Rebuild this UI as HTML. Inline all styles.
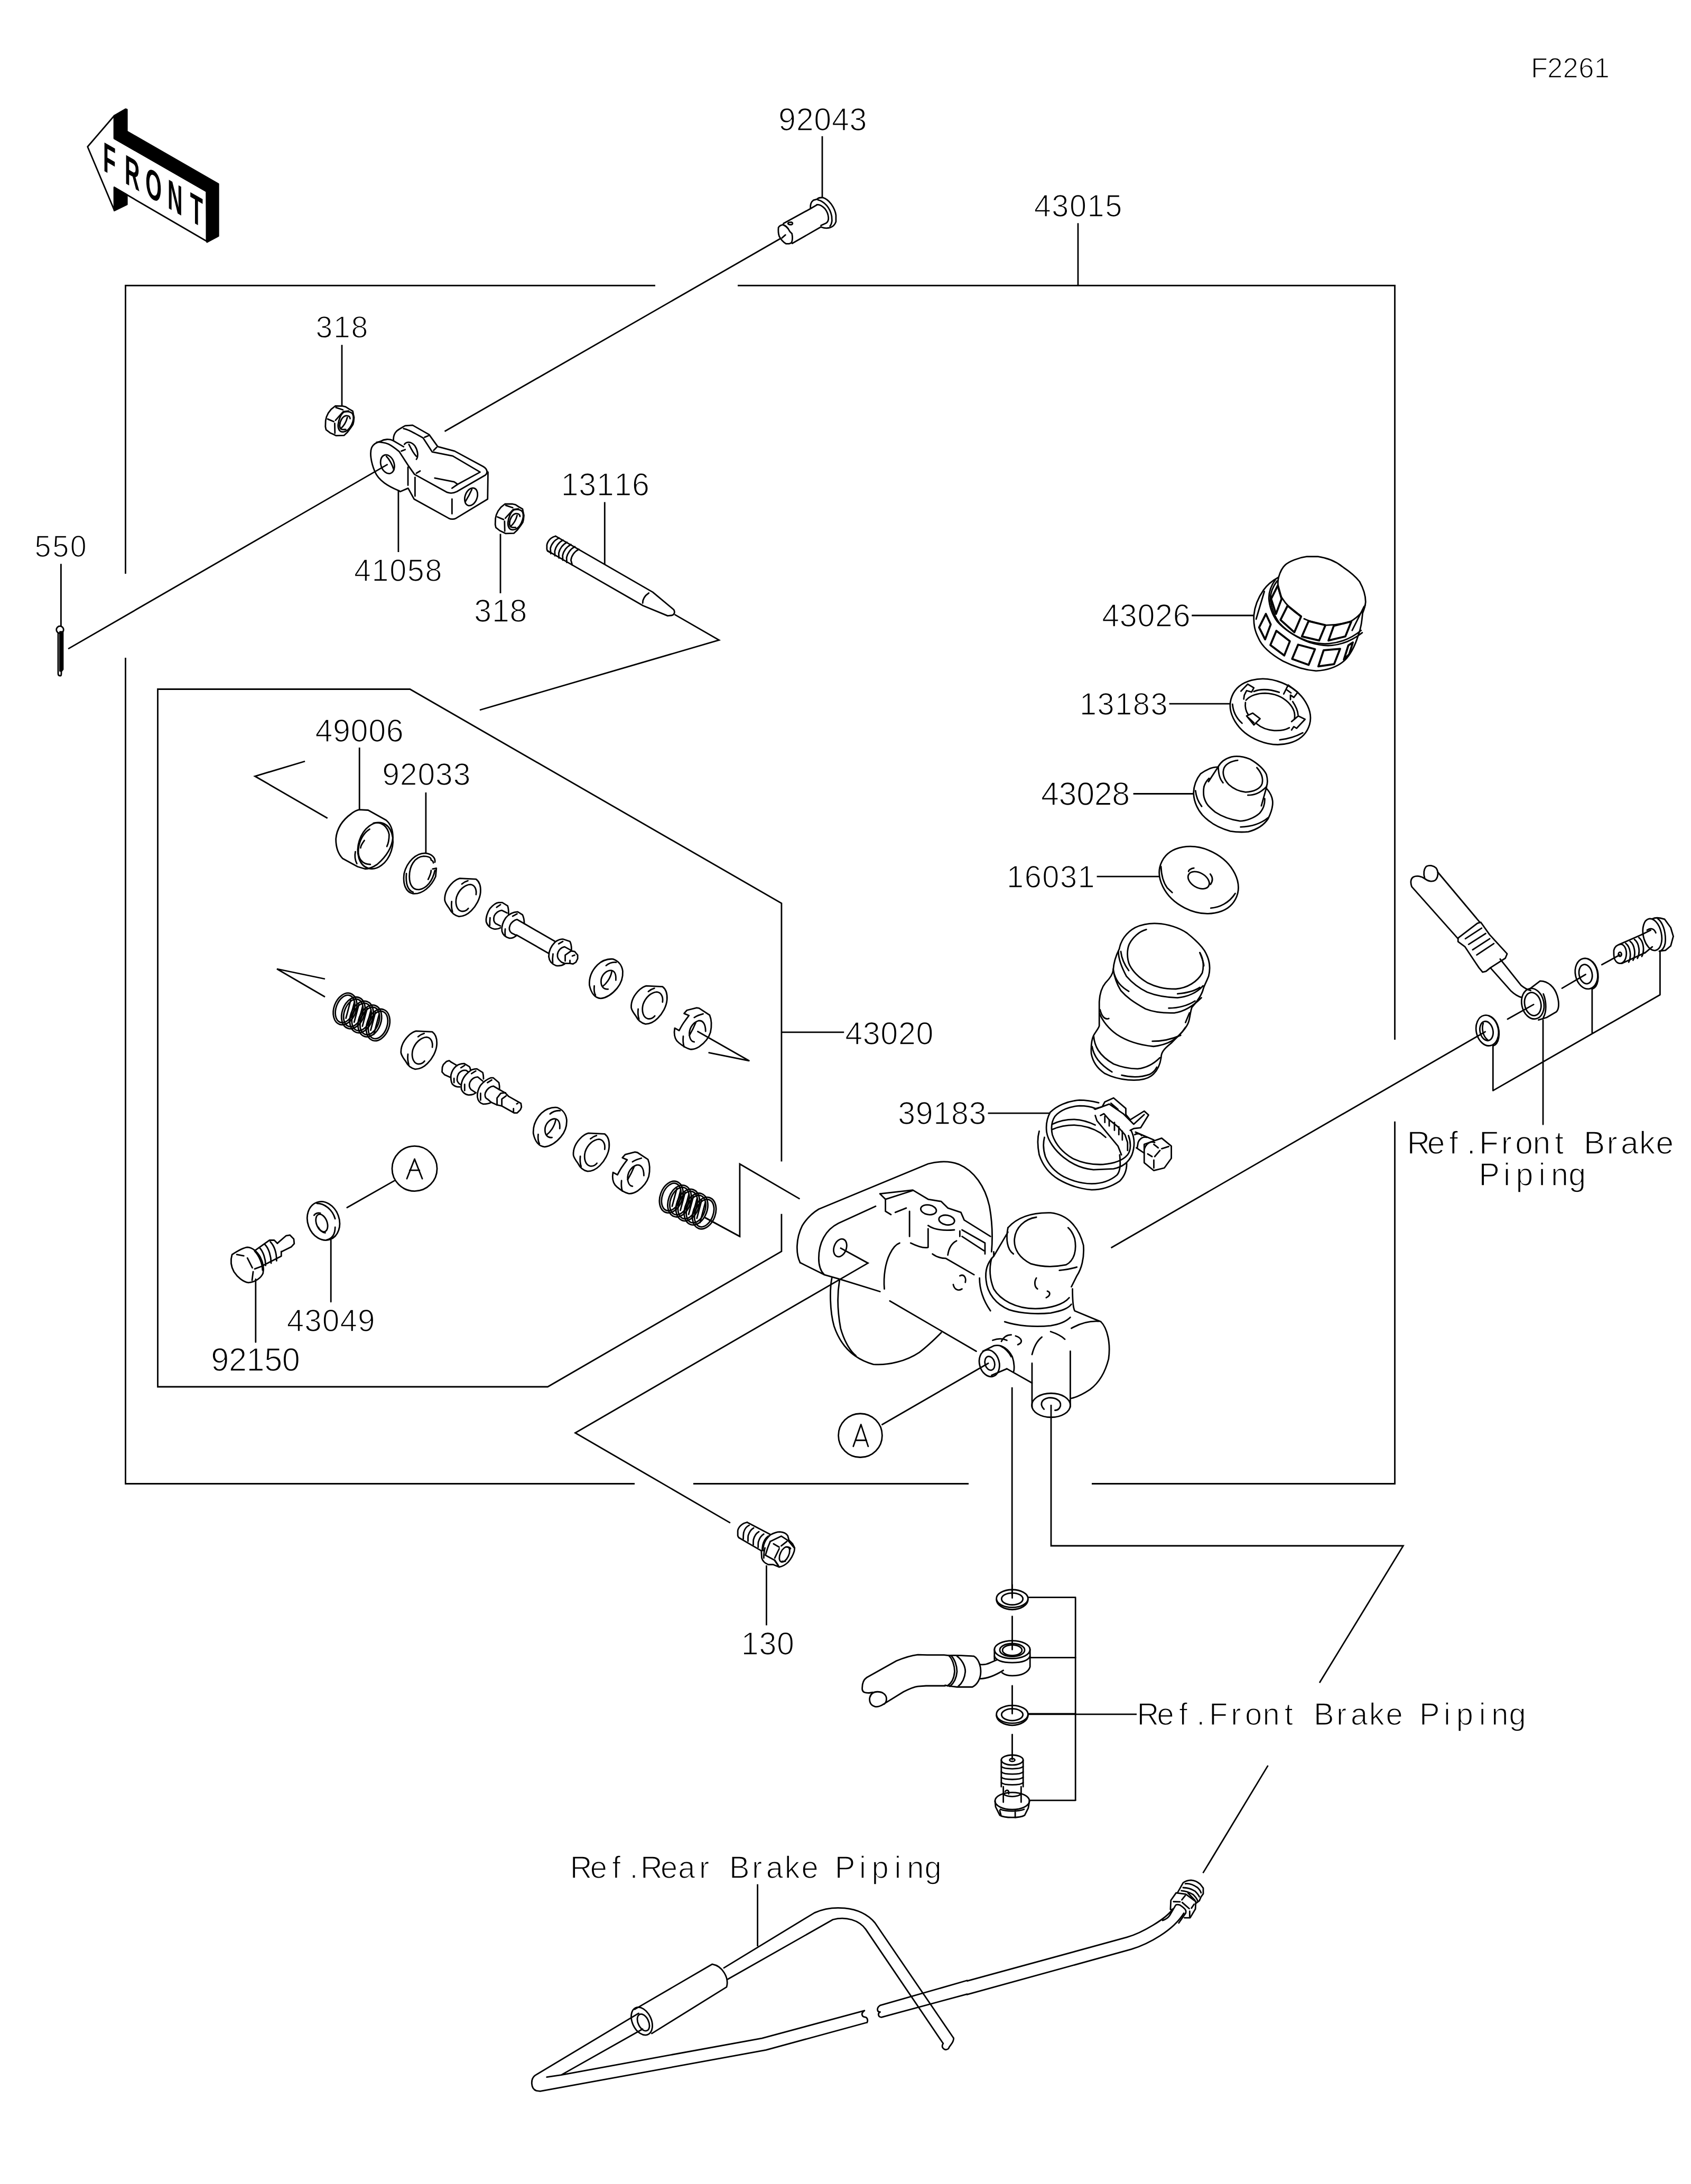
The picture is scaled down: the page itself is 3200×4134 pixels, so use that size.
<!DOCTYPE html>
<html><head><meta charset="utf-8"><style>
html,body{margin:0;padding:0;background:#fff;width:3200px;height:4134px;overflow:hidden}
svg{display:block}
svg path,svg ellipse,svg circle,svg polyline,svg polygon,svg line{fill:none;stroke:#000;stroke-width:2.8;vector-effect:non-scaling-stroke;stroke-linejoin:round;stroke-linecap:round}
svg .f{fill:#000}
svg .w4{stroke-width:3.8}
svg path.ln{stroke-linecap:butt;stroke-linejoin:miter}
svg .w{fill:#fff}
text{font-family:"Liberation Sans",sans-serif;fill:#000;stroke:#fff;stroke-width:1.6px}
text.fr{font-family:"Liberation Sans",sans-serif;font-weight:bold;stroke:none}
</style></head><body>
<svg xmlns="http://www.w3.org/2000/svg" width="3200" height="4134" viewBox="0 0 3200 4134"><path class="ln" d="M237.5,1086.0 L237.5,540.5 L1240.0,540.5"/>
<path class="ln" d="M1396.0,540.5 L2639.5,540.5 L2639.5,1968.0"/>
<path class="ln" d="M2639.5,2122.7 L2639.5,2808.5 L2066.0,2808.5"/>
<path class="ln" d="M1833.0,2808.5 L1312.0,2808.5"/>
<path class="ln" d="M1201.0,2808.5 L237.5,2808.5 L237.5,1245.0"/>
<path class="ln" d="M2040.0,422.4 L2040.0,540.5"/>
<path class="ln" d="M1556.0,257.8 L1556.0,373.7"/>
<path class="ln" d="M1476.5,451.8 L841.5,816.5"/>
<path class="ln" d="M1478.9,2198.5 L1478.9,1709.8 L775.8,1304.5 L298.5,1304.5 L298.5,2625.0 L1036.5,2625.0 L1478.9,2368.8 L1478.9,2297.8"/>
<path class="ln" d="M1478.9,1953.9 L1597.2,1953.9"/>
<text class="t" text-anchor="middle" y="246.8" font-size="60.3" transform="scale(0.980,1)"><tspan x="1519.9">9</tspan><tspan x="1554.2">2</tspan><tspan x="1588.5">0</tspan><tspan x="1622.8">4</tspan><tspan x="1657.0">3</tspan></text>
<text class="t" text-anchor="middle" y="410.0" font-size="58.9" transform="scale(0.980,1)"><tspan x="2013.0">4</tspan><tspan x="2047.3">3</tspan><tspan x="2081.6">0</tspan><tspan x="2115.9">1</tspan><tspan x="2150.2">5</tspan></text>
<text class="t" text-anchor="middle" y="147.3" font-size="53.6" transform="scale(0.980,1)"><tspan x="2972.5">F</tspan><tspan x="3002.7">2</tspan><tspan x="3032.9">2</tspan><tspan x="3063.1">6</tspan><tspan x="3093.3">1</tspan></text>
<text class="t" text-anchor="middle" y="639.5" font-size="58.3" transform="scale(0.980,1)"><tspan x="625.9">3</tspan><tspan x="660.2">1</tspan><tspan x="694.4">8</tspan></text>
<text class="t" text-anchor="middle" y="1053.9" font-size="56.9" transform="scale(0.980,1)"><tspan x="82.8">5</tspan><tspan x="117.0">5</tspan><tspan x="151.3">0</tspan></text>
<text class="t" text-anchor="middle" y="1099.7" font-size="58.6" transform="scale(0.980,1)"><tspan x="699.9">4</tspan><tspan x="734.2">1</tspan><tspan x="768.5">0</tspan><tspan x="802.8">5</tspan><tspan x="837.1">8</tspan></text>
<text class="t" text-anchor="middle" y="1176.9" font-size="60.3" transform="scale(0.980,1)"><tspan x="932.4">3</tspan><tspan x="966.7">1</tspan><tspan x="1001.0">8</tspan></text>
<text class="t" text-anchor="middle" y="938.0" font-size="60.3" transform="scale(0.980,1)"><tspan x="1100.2">1</tspan><tspan x="1134.4">3</tspan><tspan x="1168.7">1</tspan><tspan x="1203.0">1</tspan><tspan x="1237.3">6</tspan></text>
<text class="t" text-anchor="middle" y="1186.4" font-size="60.3" transform="scale(0.980,1)"><tspan x="2144.5">4</tspan><tspan x="2178.8">3</tspan><tspan x="2213.1">0</tspan><tspan x="2247.4">2</tspan><tspan x="2281.7">6</tspan></text>
<text class="t" text-anchor="middle" y="1353.4" font-size="59.0" transform="scale(0.980,1)"><tspan x="2101.1">1</tspan><tspan x="2135.4">3</tspan><tspan x="2169.7">1</tspan><tspan x="2204.0">8</tspan><tspan x="2238.3">3</tspan></text>
<text class="t" text-anchor="middle" y="1523.7" font-size="62.3" transform="scale(0.980,1)"><tspan x="2027.5">4</tspan><tspan x="2061.8">3</tspan><tspan x="2096.1">0</tspan><tspan x="2130.4">2</tspan><tspan x="2164.6">8</tspan></text>
<text class="t" text-anchor="middle" y="1404.0" font-size="60.3" transform="scale(0.980,1)"><tspan x="625.4">4</tspan><tspan x="659.6">9</tspan><tspan x="693.9">0</tspan><tspan x="728.2">0</tspan><tspan x="762.5">6</tspan></text>
<text class="t" text-anchor="middle" y="1485.8" font-size="60.0" transform="scale(0.980,1)"><tspan x="754.7">9</tspan><tspan x="789.0">2</tspan><tspan x="823.3">0</tspan><tspan x="857.6">3</tspan><tspan x="891.9">3</tspan></text>
<text class="t" text-anchor="middle" y="1680.3" font-size="59.0" transform="scale(0.980,1)"><tspan x="1960.4">1</tspan><tspan x="1994.7">6</tspan><tspan x="2029.0">0</tspan><tspan x="2063.3">3</tspan><tspan x="2097.6">1</tspan></text>
<text class="t" text-anchor="middle" y="1976.9" font-size="60.3" transform="scale(0.980,1)"><tspan x="1648.6">4</tspan><tspan x="1682.9">3</tspan><tspan x="1717.1">0</tspan><tspan x="1751.4">2</tspan><tspan x="1785.7">0</tspan></text>
<text class="t" text-anchor="middle" y="2128.3" font-size="60.3" transform="scale(0.980,1)"><tspan x="1750.7">3</tspan><tspan x="1784.9">9</tspan><tspan x="1819.2">1</tspan><tspan x="1853.5">8</tspan><tspan x="1887.8">3</tspan></text>
<text class="t" text-anchor="middle" y="2183.7" font-size="61.7" transform="scale(0.980,1)"><tspan x="2739.0">R</tspan><tspan x="2773.0">e</tspan><tspan x="2806.9">f</tspan><tspan x="2840.9">.</tspan><tspan x="2874.9">F</tspan><tspan x="2908.9">r</tspan><tspan x="2942.9">o</tspan><tspan x="2976.8">n</tspan><tspan x="3010.8">t</tspan><tspan x="3078.8">B</tspan><tspan x="3112.8">r</tspan><tspan x="3146.7">a</tspan><tspan x="3180.7">k</tspan><tspan x="3214.7">e</tspan></text>
<text class="t" text-anchor="middle" y="2244.2" font-size="60.3" transform="scale(0.980,1)"><tspan x="2875.8">P</tspan><tspan x="2909.7">i</tspan><tspan x="2943.7">p</tspan><tspan x="2977.7">i</tspan><tspan x="3011.7">n</tspan><tspan x="3045.7">g</tspan></text>
<text class="t" text-anchor="middle" y="2520.0" font-size="59.6" transform="scale(0.980,1)"><tspan x="570.4">4</tspan><tspan x="604.6">3</tspan><tspan x="638.9">0</tspan><tspan x="673.2">4</tspan><tspan x="707.5">9</tspan></text>
<text class="t" text-anchor="middle" y="2594.8" font-size="62.4" transform="scale(0.980,1)"><tspan x="424.8">9</tspan><tspan x="459.1">2</tspan><tspan x="493.4">1</tspan><tspan x="527.7">5</tspan><tspan x="561.9">0</tspan></text>
<text class="t" text-anchor="middle" y="3131.7" font-size="60.3" transform="scale(0.980,1)"><tspan x="1448.2">1</tspan><tspan x="1482.5">3</tspan><tspan x="1516.8">0</tspan></text>
<text class="t" text-anchor="middle" y="3264.7" font-size="59.0" transform="scale(0.980,1)"><tspan x="2216.7">R</tspan><tspan x="2250.7">e</tspan><tspan x="2284.7">f</tspan><tspan x="2318.7">.</tspan><tspan x="2352.7">F</tspan><tspan x="2386.6">r</tspan><tspan x="2420.6">o</tspan><tspan x="2454.6">n</tspan><tspan x="2488.6">t</tspan><tspan x="2556.5">B</tspan><tspan x="2590.5">r</tspan><tspan x="2624.5">a</tspan><tspan x="2658.5">k</tspan><tspan x="2692.4">e</tspan><tspan x="2760.4">P</tspan><tspan x="2794.4">i</tspan><tspan x="2828.4">p</tspan><tspan x="2862.3">i</tspan><tspan x="2896.3">n</tspan><tspan x="2930.3">g</tspan></text>
<text class="t" text-anchor="middle" y="3554.7" font-size="59.0" transform="scale(0.980,1)"><tspan x="1122.0">R</tspan><tspan x="1156.0">e</tspan><tspan x="1190.0">f</tspan><tspan x="1224.0">.</tspan><tspan x="1258.0">R</tspan><tspan x="1291.9">e</tspan><tspan x="1325.9">a</tspan><tspan x="1359.9">r</tspan><tspan x="1427.9">B</tspan><tspan x="1461.8">r</tspan><tspan x="1495.8">a</tspan><tspan x="1529.8">k</tspan><tspan x="1563.8">e</tspan><tspan x="1631.7">P</tspan><tspan x="1665.7">i</tspan><tspan x="1699.7">p</tspan><tspan x="1733.7">i</tspan><tspan x="1767.7">n</tspan><tspan x="1801.6">g</tspan></text>
<g transform="translate(150.00,190.00) scale(0.16558)"><polygon class="f" points="400,175 530,100 545,105 545,355 1590,955 1590,1550 1460,1620 1455,1040 400,435"/><polygon class="f" points="400,995 545,1080 545,1190 400,1260"/><path d="M400,435 L400,175 L95,530 L400,1255 L400,995 L1455,1610 L1455,1040 Z"/></g>
<text class="fr" y="210" font-size="79" transform="skewY(30) scale(0.500,1)"><tspan x="414.2" text-anchor="middle">F</tspan><tspan x="500.4" text-anchor="middle">R</tspan><tspan x="581.4" text-anchor="middle">O</tspan><tspan x="662.6" text-anchor="middle">N</tspan><tspan x="743.8" text-anchor="middle">T</tspan></text>
<g transform="translate(1440.00,360.00) scale(0.09462)"><path d="M990,365 C985,300 995,240 1050,200 L1120,180 C1150,150 1200,145 1240,150 C1300,165 1350,210 1400,270 C1450,340 1490,420 1500,500 L1500,630 C1480,690 1440,730 1380,750 C1320,765 1260,760 1210,740"/><path d="M1140,195 C1200,205 1260,250 1310,300 C1370,370 1400,440 1415,520 L1420,610 C1415,660 1400,700 1380,720"/><path d="M1120,290 C1170,280 1230,320 1280,370 C1320,420 1345,480 1350,550 C1352,600 1340,640 1300,660 L1200,705"/><path d="M450,665 L990,370 L1125,290"/><path d="M625,1065 L1200,735"/><path d="M350,745 C370,715 400,695 440,690 C490,700 540,750 580,830 L620,870 C630,920 635,990 615,1040 C600,1065 560,1075 500,1070 C450,1040 400,990 365,920 C350,880 345,800 350,745 Z"/><path d="M440,690 C480,710 520,740 545,770"/><path d="M540,665 C545,645 575,638 615,642 C640,650 638,680 615,688 C580,692 545,685 540,665 Z"/><path d="M420,955 L490,895"/></g>
<g transform="translate(610.00,760.00) scale(0.04140)"><path d="M590,205 L930,210 L1070,245 L1200,330 L1390,440 L1420,600 L1450,730 L1430,920 L1400,1050 L1300,1200 L1150,1400 L990,1550 L620,1560 L500,1500 L350,1430 L170,1290 L140,1150 L150,870 L190,700 L270,530 L400,360 Z"/><path d="M240,800 L520,920"/><path d="M620,275 L940,380"/><path d="M600,860 L960,460 L1200,430"/><path d="M565,1000 L575,1450"/><path d="M990,480 C1150,440 1300,470 1380,560 C1450,700 1420,900 1330,1080 C1240,1260 1100,1380 950,1390 C780,1390 710,1250 720,1060 C740,850 850,560 990,480 Z"/><path d="M1270,780 C1260,680 1200,640 1080,650 C930,680 800,880 790,1100 C800,1250 880,1300 1000,1280 L1070,1280"/><path d="M1140,730 C1100,900 1000,1100 830,1250"/></g>
<g transform="translate(931.40,945.30) scale(0.04140)"><path d="M590,205 L930,210 L1070,245 L1200,330 L1390,440 L1420,600 L1450,730 L1430,920 L1400,1050 L1300,1200 L1150,1400 L990,1550 L620,1560 L500,1500 L350,1430 L170,1290 L140,1150 L150,870 L190,700 L270,530 L400,360 Z"/><path d="M240,800 L520,920"/><path d="M620,275 L940,380"/><path d="M600,860 L960,460 L1200,430"/><path d="M565,1000 L575,1450"/><path d="M990,480 C1150,440 1300,470 1380,560 C1450,700 1420,900 1330,1080 C1240,1260 1100,1380 950,1390 C780,1390 710,1250 720,1060 C740,850 850,560 990,480 Z"/><path d="M1270,780 C1260,680 1200,640 1080,650 C930,680 800,880 790,1100 C800,1250 880,1300 1000,1280 L1070,1280"/><path d="M1140,730 C1100,900 1000,1100 830,1250"/></g>
<path class="ln" d="M647.0,652.8 L647.0,768.0"/>
<path class="ln" d="M947.0,1010.5 L947.0,1123.0"/>
<g transform="translate(690.00,790.00) scale(0.14193)"><path d="M455,978 C320,920 190,850 135,720 C85,600 65,470 95,400 C120,350 170,330 215,318 C260,290 330,285 380,310 L520,392"/><path d="M160,332 C190,330 215,330 240,335 C290,340 330,350 460,455 L580,640 L665,760 L1100,1000 C1140,1015 1190,1010 1230,990 L1610,770 C1645,740 1640,690 1580,655 L1200,450 L975,390 L860,230 L640,105 L540,112 C500,135 470,150 430,180 C395,215 380,260 385,310"/><path d="M520,150 C560,155 600,175 780,275 L900,460 L1175,515 L1540,730 L1240,893 L1195,860 L935,810"/><path d="M1165,945 L1240,893"/><path d="M455,978 L475,990 L580,945 L660,1090 L1120,1345 C1150,1360 1190,1360 1220,1345 L1640,1090 L1645,730"/><path d="M578,665 L578,905"/><path d="M672,800 L672,1050"/><path d="M1165,1090 L1165,1285"/><path d="M800,265 L850,245"/><path d="M920,440 L960,400"/><path d="M490,450 L540,430"/><path d="M690,745 L740,715"/><ellipse cx="305" cy="625" rx="88" ry="128" transform="rotate(-18 305 625)"/><path d="M290,520 C330,560 370,640 390,700"/><path d="M530,360 C560,320 620,320 670,380 C710,440 720,520 690,560"/><path d="M590,360 C620,420 650,480 690,520"/><ellipse cx="1420" cy="1060" rx="80" ry="122" transform="rotate(20 1420 1060)"/><path d="M1430,960 C1400,1030 1370,1080 1345,1120"/></g>
<path class="ln" d="M753.9,928.8 L753.9,1045.0"/>
<path class="ln" d="M733.7,878.9 L129.1,1228.1"/>
<circle cx="113.5" cy="1192" r="6.8"/>
<path d="M110,1198 L110,1275 Q110,1279 113,1279 L115,1279 Q116,1279 116,1275 L116,1200"/>
<polygon class="f" points="113.5,1196 119,1196 119,1267 116.5,1270 113.5,1270"/>
<path class="ln" d="M115.4,1067.3 L115.4,1185.5"/>
<g transform="translate(1020.00,1000.00) scale(0.16558)"><path d="M190,90 L1300,730 L1540,930 C1555,955 1550,985 1520,995 L1470,1000 L1190,885 L390,425 L95,255"/><path d="M190,90 C140,100 100,140 90,190 L90,240 L100,262 L125,275"/><path d="M230,112 C180,130 140,180 130,230 L135,290"/><path d="M275,135 C225,160 190,210 180,260 L182,315"/><path d="M320,160 C270,185 235,235 225,285 L228,340"/><path d="M365,185 C315,210 280,260 270,310 L272,365"/><path d="M410,210 C360,235 325,285 315,335 L317,390"/><path d="M455,240 C405,265 370,315 365,365 L380,420"/><path d="M1255,740 C1210,770 1185,810 1185,855"/></g>
<path class="ln" d="M1144.3,950.4 L1144.3,1068.7"/>
<path class="ln" d="M1276.6,1163.1 L1360.6,1211.6 L907.9,1344.0"/>
<g transform="translate(2360.00,1040.00) scale(0.14193)" style="stroke-width:3px"><path d="M420,370 C440,300 470,240 510,205 C560,160 680,110 800,95 L940,95 C1050,110 1170,150 1270,230 C1360,290 1440,350 1500,430 C1550,520 1580,620 1580,700 C1575,760 1560,800 1540,850 C1530,950 1520,1050 1480,1150 C1440,1280 1380,1400 1300,1480 C1200,1570 1080,1610 920,1620 C780,1610 620,1560 480,1490 C320,1400 200,1300 150,1180 C100,1080 85,1000 90,880 C100,760 150,640 220,540 C270,470 330,420 420,370 Z"/><path d="M420,370 C400,450 410,540 460,640 C520,740 600,820 720,890 M760,925 C800,945 850,960 900,975 M1060,1010 C1150,1010 1250,1000 1380,960 C1480,900 1550,830 1575,740"/><path d="M380,400 C320,480 290,560 290,650 C295,760 340,880 400,960 C500,1070 640,1160 800,1220 C900,1250 1000,1265 1100,1255 C1250,1240 1400,1180 1520,1080"/><path d="M400,420 C340,500 310,580 310,660 C320,780 370,900 430,980 C530,1090 670,1180 830,1240 C930,1270 1030,1290 1130,1280 C1280,1265 1420,1200 1535,1110"/><path class="w4" d="M320,660 L410,480 L460,660 L385,860 Z"/><path class="w4" d="M445,940 L540,750 L720,895 L630,1105 Z"/><path class="w4" d="M730,1160 L820,955 L1045,1010 L960,1215 Z"/><path class="w4" d="M1085,1215 L1155,1020 L1390,960 L1310,1160 Z"/><path class="w4" d="M160,1040 L250,860 L315,1000 L240,1200 Z"/><path class="w4" d="M310,1275 L390,1085 L570,1225 L495,1415 Z"/><path class="w4" d="M600,1460 L680,1270 L905,1330 L820,1540 Z"/><path class="w4" d="M950,1560 L1020,1345 L1240,1325 L1160,1530 Z"/><path class="w4" d="M1290,1470 L1350,1280 L1410,1240 L1360,1400 Z"/><path d="M120,930 L230,560"/><path d="M1400,1080 L1560,760"/></g>
<path class="ln" d="M2255.2,1165.0 L2373.5,1165.0"/>
<g transform="translate(2310.00,1270.00) scale(0.10645)"><ellipse cx="882" cy="725" rx="735" ry="555" transform="rotate(22 882 725)"/><path d="M210,590 C220,720 280,840 380,930"/><path d="M1050,1225 C1200,1210 1350,1160 1460,1100"/><path d="M450,520 C520,440 650,395 790,395 C950,400 1100,460 1200,560 C1300,660 1330,770 1310,860 M1220,1010 C1150,1050 1050,1065 950,1060 C820,1050 720,1010 640,940 M490,780 C450,720 430,640 440,560"/><path d="M590,365 C700,320 860,320 1040,380"/><path d="M1280,545 C1330,620 1370,700 1375,780"/><path d="M360,360 L480,235 L590,300 L550,375 L460,350 L420,430 L410,500"/><path d="M1120,410 L1200,250 L1370,380 L1300,470 L1240,430 L1240,510"/><path d="M1180,340 L1250,390"/><path d="M460,800 L570,750 L700,850 L590,960 Z"/><path d="M490,830 L590,920"/><path d="M1260,900 L1380,800 L1500,860 L1350,1020 L1300,990 L1260,1050"/></g>
<path class="ln" d="M2212.6,1332.2 L2329.2,1332.2"/>
<g transform="translate(2240.00,1420.00) scale(0.10645)"><path d="M610,300 C650,220 730,150 850,118 C950,100 1080,120 1180,160 C1300,230 1420,330 1470,430 C1495,520 1490,600 1470,650"/><path d="M960,180 C850,195 760,240 720,310 C680,400 710,520 800,610 C900,700 1000,735 1100,745 C1250,740 1370,680 1395,590 C1415,500 1380,400 1300,310"/><path d="M615,310 C620,400 630,500 700,580"/><path d="M1140,800 C1250,800 1350,770 1470,650"/><path d="M610,300 C480,300 380,360 300,420 C220,520 180,620 175,760 C180,900 230,1030 330,1150 C450,1280 600,1380 830,1440 C950,1460 1050,1460 1150,1450 C1300,1410 1420,1340 1500,1220 C1560,1100 1590,1000 1580,900 C1570,820 1540,760 1480,690"/><path d="M360,650 C350,700 350,790 360,830 C390,950 440,1000 560,1100 C680,1180 800,1230 1000,1260 C1100,1260 1250,1210 1350,1120 C1420,1040 1445,950 1440,860"/><path d="M610,300 L440,560 M450,500 C410,540 380,580 360,650"/><path d="M1475,650 L1380,990"/><path d="M210,720 C220,830 260,920 320,1000"/><path d="M1010,1365 C1200,1360 1380,1300 1500,1200"/></g>
<path class="ln" d="M2144.6,1502.5 L2258.6,1502.5"/>
<g transform="translate(2180.00,1590.00) scale(0.10645)"><ellipse cx="832" cy="712" rx="735" ry="555" transform="rotate(27 832 712)"/><path d="M160,470 C165,600 190,740 270,850 L360,935"/><path d="M1045,1210 C1200,1200 1370,1120 1480,950"/><ellipse cx="830" cy="715" rx="205" ry="130" transform="rotate(30 830 715)"/><path d="M650,560 C650,530 700,505 745,500"/><path d="M1035,605 C1080,660 1090,720 1040,790"/></g>
<path class="ln" d="M2075.6,1659.2 L2193.5,1659.2"/>
<g transform="translate(2050.00,1730.00) scale(0.15106)"><path d="M450,440 C470,330 540,230 650,170 C750,125 850,115 930,120 C1050,125 1200,170 1300,240 C1400,320 1500,410 1540,500 C1590,600 1590,700 1570,780 C1540,860 1510,900 1500,950 C1480,1020 1440,1080 1360,1170 C1340,1230 1335,1300 1320,1350 C1300,1420 1240,1480 1100,1620 C1000,1700 975,1740 975,1800 C960,1900 920,1980 850,2030 C780,2080 680,2090 560,2080 C450,2070 350,2040 270,2000 C180,1940 120,1860 100,1750 C95,1650 100,1580 130,1520 C160,1470 200,1420 200,1400 L200,1100 C205,1000 230,920 280,860 C330,810 370,760 375,700 C380,620 410,520 450,440 Z"/><path d="M790,195 C700,220 620,290 575,380 C545,450 545,560 580,640 C620,720 700,800 800,860 C900,910 1000,940 1160,940 C1300,930 1430,850 1490,740 C1510,670 1510,570 1460,485"/><path d="M440,470 C440,560 470,650 540,780 C600,850 680,920 800,980 C900,1020 1000,1045 1180,1050 C1300,1040 1420,990 1500,900"/><path d="M470,470 C480,560 510,630 570,710"/><path d="M375,690 C390,800 420,880 470,960 C540,1040 620,1100 780,1190 C880,1230 980,1245 1140,1240 C1270,1225 1380,1150 1480,1050"/><path d="M390,760 C420,850 470,910 570,970"/><path d="M1180,1000 C1300,990 1400,960 1460,920"/><path d="M1070,1180 C1200,1180 1320,1140 1400,1090"/><path d="M205,1250 C240,1340 320,1440 420,1510 C540,1590 680,1640 880,1660 C1050,1640 1180,1580 1280,1420"/><path d="M210,1200 C230,1280 270,1330 320,1310"/><path d="M1280,1360 L1330,1240"/><path d="M865,1595 C1000,1595 1130,1560 1220,1520"/><path d="M130,1530 C140,1650 190,1770 380,1880 C480,1920 580,1940 680,1940 C780,1930 880,1880 960,1800"/><path d="M110,1660 C130,1780 200,1880 360,1980"/><path d="M480,2020 C600,2050 720,2050 830,2010 C870,1990 900,1960 920,1920"/><path d="M1460,485 C1490,560 1510,620 1510,650"/></g>
<g transform="translate(1950.00,2070.00) scale(0.16558)"><path d="M225,215 C300,140 420,85 560,75 C650,75 720,90 780,105 M1150,420 C1190,500 1195,600 1160,700 C1120,790 1050,840 950,860 L720,870 C600,860 480,810 380,730 C280,650 200,540 185,440 C175,360 190,280 225,215"/><path d="M740,170 C680,145 620,140 560,140 C450,145 340,190 280,260 C240,320 235,400 250,470 C290,590 380,680 480,740 C580,790 700,815 830,810 C950,800 1050,770 1110,700 C1150,650 1150,560 1120,480"/><path d="M250,350 C330,310 420,295 500,295 C600,300 680,330 740,360"/><path d="M250,410 C330,375 420,360 500,360 C620,365 720,400 800,450 L860,500"/><path d="M100,430 C80,500 80,600 100,700 C140,820 220,920 320,980 C440,1050 570,1090 700,1100 C820,1100 930,1060 1020,1000 C1080,940 1100,870 1100,800"/><path d="M160,500 C145,560 145,640 170,720 C210,820 290,900 380,950 C480,1000 600,1030 700,1030 C820,1030 920,990 990,930 C1030,880 1030,800 1020,700"/><path d="M730,175 L820,150 L850,95 L950,50 L1090,170 L1090,240 L1140,300 L1300,200 L1350,245 L1260,390 L1180,400 L1140,420"/><path d="M740,180 L900,120 L1060,230 L1180,350 L1300,240 M920,110 L1000,180"/><path d="M740,250 L760,310 L1000,600 L1040,700 M800,250 L840,230 L900,300 L1000,380 L1080,470 L1110,560 L1110,650"/><path d="M850,260 L850,330 M900,300 L900,370 M960,330 L960,420 M1010,380 L1010,470 M1050,430 L1050,530"/><path d="M1200,440 L1410,530 M1210,620 L1300,680 M1190,470 C1220,450 1260,460 1270,480"/><path d="M1230,560 C1250,510 1290,490 1330,500 M1230,560 L1220,620"/><path d="M1300,580 L1500,510 L1610,600 L1610,740 L1530,850 L1410,880 L1300,790 Z"/><path d="M1300,640 C1320,570 1370,540 1420,560"/><path d="M1410,580 L1460,620 M1500,630 L1580,605 M1480,650 L1420,720 M1340,690 L1390,720 M1410,760 L1410,850"/></g>
<path class="ln" d="M1869.6,2107.2 L1987.3,2107.2"/>
<g transform="translate(1450.00,2150.00) scale(0.41396)"><path d="M155,580 C135,540 135,470 165,410 C190,370 215,350 240,335 L740,128 C790,115 840,115 880,130 C950,160 1000,230 1020,320 C1035,400 1035,470 1030,530"/><path d="M155,580 L265,635 L335,655 L520,712"/><path d="M500,322 L330,400 C270,430 240,490 240,560 C240,600 250,620 265,635"/><ellipse cx="338" cy="512" rx="28" ry="42" transform="rotate(20 338 512)"/><path d="M520,265 L670,248 L740,290 L800,300 L830,330 L890,350 L905,385 L1025,460"/><path d="M520,265 L545,290 L545,345 L570,360 M590,350 L640,330"/><path d="M545,290 L670,250"/><ellipse cx="742" cy="338" rx="36" ry="22" transform="rotate(10 742 338)"/><ellipse cx="825" cy="385" rx="36" ry="22" transform="rotate(10 825 385)"/><path d="M655,345 L655,460 M740,425 L740,510 C720,515 690,505 660,490"/><path d="M740,410 C760,425 800,435 860,430 M885,435 L885,460 M895,430 L1000,490 M895,460 L995,525 M1000,490 L1000,540"/><path d="M760,540 C780,555 800,560 820,560 L950,635"/><path d="M830,545 C835,510 850,490 870,480"/><path d="M540,700 C535,640 545,580 565,540 C580,510 595,495 610,490"/><path d="M565,755 L960,985"/><path d="M300,650 C290,700 290,800 310,870 C340,960 400,1020 490,1045 C560,1050 640,1030 700,990 C740,960 770,930 800,900"/><path d="M335,660 C325,720 325,800 340,880 C360,950 390,990 410,1005"/><path d="M885,640 C905,630 915,650 910,670 M855,680 C860,705 880,710 895,700"/><path d="M975,650 C975,700 990,750 1025,800"/><path d="M1105,420 C1150,370 1220,350 1300,352 C1380,360 1430,420 1450,500 C1455,560 1440,610 1420,640 L1395,690"/><path d="M1235,372 C1180,380 1140,420 1135,470 C1130,520 1160,560 1210,585 C1260,600 1320,600 1370,590 C1410,570 1420,520 1410,470 C1400,440 1390,430 1380,420"/><path d="M1105,420 C1095,470 1100,520 1130,540 M1105,440 L1040,550 C1010,580 1000,620 1005,660 C1010,720 1050,770 1110,795 C1170,815 1250,815 1300,810 C1350,800 1380,790 1395,770"/><path d="M1040,550 L1040,530 M1030,560 C1020,600 1020,650 1040,700 C1070,750 1140,790 1230,790 C1300,790 1360,770 1385,740"/><path d="M1340,615 C1370,612 1395,608 1420,600"/><path d="M1235,650 C1225,665 1225,690 1240,700 M1285,710 C1300,715 1300,730 1280,740"/><path d="M1400,700 C1400,760 1405,790 1410,800 L1530,850 C1560,880 1575,950 1565,1020 C1550,1080 1520,1130 1480,1160 C1450,1180 1420,1195 1395,1200"/><path d="M1395,880 C1430,860 1470,845 1520,848"/><path d="M1090,850 C1150,870 1230,875 1300,868 C1340,862 1370,850 1390,830"/><path d="M1215,1040 L1215,1240 M1390,985 L1390,1240"/><path d="M1215,1000 C1225,960 1240,935 1260,920 M1300,895 C1330,905 1350,915 1365,930"/><ellipse cx="1302" cy="1232" rx="88" ry="55"/><path d="M1270,1250 C1250,1230 1255,1205 1290,1198 C1320,1195 1350,1210 1345,1235 C1340,1250 1330,1255 1320,1255"/><path d="M1100,1065 L1215,1130"/><ellipse cx="1020" cy="1040" rx="45" ry="62" transform="rotate(-15 1020 1040)"/><ellipse cx="1022" cy="1040" rx="22" ry="32" transform="rotate(-15 1022 1040)"/><path d="M990,985 L1040,960 C1080,950 1110,980 1125,1010 C1135,1040 1135,1070 1130,1080 M1030,1095 L1100,1065"/><path d="M1035,935 C1060,925 1080,925 1100,935 M1075,940 C1085,920 1100,910 1120,910 M1140,915 C1170,925 1175,945 1150,955"/><path d="M1070,960 C1090,970 1110,990 1120,1010"/><circle cx="430" cy="1370" r="100"/><path d="M398,1420 L433,1320 L466,1420 M408,1392 L458,1392"/><path d="M530,1320 L1015,1040"/></g>
<path class="ln" d="M1589.9,2362.0 L1642.5,2390.9 L1088.6,2712.2 L1381.9,2882.6"/>
<path class="ln" d="M1513.4,2269.4 L1399.9,2203.2 L1399.9,2340.4 L1334.6,2304.9"/>
<path class="ln" d="M2102.5,2362.0 L2811.6,1952.4"/>
<path class="ln" d="M1915.2,2626.0 L1915.2,3019.7"/>
<path class="ln" d="M1989.0,2659.0 L1989.0,2926.0 L2655.4,2926.0 L2497.0,3185.3"/>
<path class="ln" d="M2399.5,3341.9 L2276.5,3545.4"/>
<g transform="translate(2650.00,1620.00) scale(0.30751)"><ellipse cx="535" cy="1075" rx="68" ry="95" transform="rotate(-12 535 1075)"/><path d="M545,985 C590,1000 615,1060 605,1120 C600,1150 585,1165 570,1170"/><ellipse cx="530" cy="1078" rx="40" ry="60" transform="rotate(-12 530 1078)"/><path d="M510,1030 C500,1060 505,1110 540,1135"/><ellipse cx="815" cy="910" rx="68" ry="95" transform="rotate(-12 815 910)"/><ellipse cx="815" cy="912" rx="50" ry="72" transform="rotate(-12 815 912)"/><path d="M795,820 L860,770 C910,770 950,810 965,860 C980,910 975,945 960,960 L900,995 L850,1010"/><path d="M880,850 C900,900 900,960 880,995"/><ellipse cx="1145" cy="725" rx="68" ry="95" transform="rotate(-12 1145 725)"/><path d="M1155,635 C1200,650 1225,710 1215,770 C1210,800 1195,815 1180,820"/><ellipse cx="1140" cy="728" rx="40" ry="60" transform="rotate(-12 1140 728)"/><path d="M355,506 L474,415 L495,409 L549,485 L657,603 L646,630 L554,689 L527,711 L506,716 L484,689 L441,625 L398,560 L355,528 Z"/><path d="M400,510 L500,445 M420,545 L525,478 M445,578 L550,510 M470,610 L575,540"/><path d="M355,510 L70,190 C60,160 65,140 80,130 C100,120 130,125 150,140 M230,100 L490,410"/><path d="M150,140 C140,110 145,80 160,65 C180,55 205,60 220,75 C235,95 235,130 215,150 C200,160 175,160 150,140"/><path d="M554,689 L678,829 C700,850 720,865 748,872 M614,635 L743,797 C765,815 785,825 802,829"/><path d="M660,1005 L820,915 M995,815 L1140,730 M1240,670 L1350,610"/><path d="M570,1170 L570,1445 L1598,855 L1598,585 M1180,820 L1180,1090 M878,1010 L878,1653"/></g>
<g transform="translate(1620.00,3000.00) scale(0.22472)"><ellipse cx="1315" cy="115" rx="133" ry="75"/><path d="M1182,125 C1185,170 1240,205 1315,208 C1390,205 1445,170 1448,125"/><ellipse cx="1315" cy="118" rx="90" ry="50"/><ellipse cx="1315" cy="545" rx="150" ry="75"/><ellipse cx="1315" cy="548" rx="105" ry="55"/><ellipse cx="1315" cy="550" rx="82" ry="45"/><path d="M1165,545 L1165,630 M1465,545 L1465,690 C1450,740 1390,765 1315,765 C1280,765 1250,755 1230,740"/><path d="M1165,600 C1180,640 1240,655 1315,655 C1390,655 1450,640 1465,600"/><ellipse cx="1315" cy="1090" rx="133" ry="75"/><path d="M1182,1100 C1185,1145 1240,1180 1315,1183 C1390,1180 1445,1145 1448,1100"/><ellipse cx="1315" cy="1093" rx="90" ry="50"/><ellipse cx="1315" cy="1475" rx="92" ry="42"/><ellipse cx="1315" cy="1475" rx="22" ry="12"/><path d="M1223,1475 L1223,1700 M1407,1475 L1407,1700"/><path d="M1223,1530 C1250,1555 1380,1555 1407,1530 M1223,1575 C1250,1600 1380,1600 1407,1575 M1223,1620 C1250,1645 1380,1645 1407,1620 M1223,1665 C1250,1690 1380,1690 1407,1665"/><path d="M1240,1700 L1240,1830 M1390,1700 L1390,1830 M1240,1760 C1270,1790 1360,1790 1390,1760"/><ellipse cx="1315" cy="1820" rx="145" ry="72"/><path d="M1170,1820 L1175,1870 L1210,1940 C1250,1965 1380,1965 1420,1940 L1450,1880 L1460,1820"/><path d="M1215,1890 C1260,1910 1370,1910 1415,1890 M1340,1900 L1340,1960 M1210,1900 L1220,1940"/><path d="M1255,1740 C1270,1720 1290,1730 1285,1760"/><path d="M1315,0 L1315,110 M1315,265 L1315,545 M1315,850 L1315,1085 M1315,1260 L1315,1470"/><path d="M1448,105 L1848,105 M1467,612 L1848,612 M1450,1085 L1848,1085 M1460,1815 L1848,1815"/><path d="M1045,670 C1080,675 1100,670 1130,655 L1190,630 M1045,790 C1100,790 1160,770 1240,720"/><path d="M780,595 C820,590 900,595 990,600 C1030,620 1050,680 1050,730 C1050,790 1020,840 980,860 L850,860 C800,855 770,850 750,845"/><path d="M780,595 C810,620 830,680 830,730 C825,790 800,830 770,850 M800,595 C830,625 850,680 850,730 C845,790 820,830 790,855 M850,600 C890,630 920,680 920,730 C915,790 890,830 860,855"/><path d="M780,595 L740,590 L600,590 L520,588 C460,595 400,615 340,640 L90,780 C60,800 50,840 52,880 C55,905 75,910 110,910 L140,905"/><path d="M750,850 L590,850 L520,855 C480,860 440,880 400,900 L230,1005 C210,1020 180,1030 160,1025 C120,1015 110,980 115,950 C125,910 150,900 180,900 C220,900 250,920 255,950 C258,975 250,995 235,1005"/></g>
<path class="ln" d="M2035.2,3024.4 L2035.2,3408.2"/>
<path class="ln" d="M1945.4,3244.9 L2151.0,3244.9"/>
<g transform="translate(1380.00,2870.00) scale(0.07688)"><path d="M440,150 L1010,450 M240,530 L790,850"/><path d="M440,150 C380,160 330,180 280,230 C240,270 215,310 210,360 L210,480 C215,500 225,515 240,530"/><path d="M490,225 C430,250 380,310 355,400 C345,460 345,510 345,560"/><path d="M600,290 C530,330 490,400 465,480 C460,540 460,580 462,615"/><path d="M730,380 C660,420 620,480 595,580 C590,640 590,670 592,705"/><path d="M850,440 C780,480 740,550 715,640 C710,700 710,730 712,765"/><path d="M960,490 C890,540 850,610 825,710 C815,770 812,800 812,835"/><path d="M790,850 L800,1030 C820,1100 880,1160 960,1190 L1080,1190 L1230,1250 C1300,1240 1380,1200 1450,1130 C1520,1050 1570,960 1600,860 L1610,780 L1560,680 L1470,590 L1440,480 C1400,420 1330,390 1250,385 C1170,385 1080,420 1010,460 C940,520 880,600 850,700 C835,760 830,800 830,850"/><path d="M1010,620 L1280,490 L1450,600 L1600,780"/><path d="M1010,620 C960,730 920,850 890,960 L1110,1080 L1230,1250"/><path d="M880,780 C860,850 850,950 850,1030"/><ellipse cx="1360" cy="940" rx="105" ry="200" transform="rotate(25 1360 940)"/><path d="M1090,680 L1230,760 M1280,730 L1420,620 M1230,800 L1120,1030 M1120,1080 L1200,1200 M1420,760 C1470,760 1500,770 1510,800 M1300,1110 L1380,1110"/></g>
<path class="ln" d="M1381.9,2882.6 L1381.9,2882.6"/>
<path class="ln" d="M1450.4,2963.0 L1450.4,3076.5"/>
<g transform="translate(990.00,3560.00) scale(0.49675)"><path d="M440,505 L45,742 C28,755 28,792 50,800 L65,802 L925,645 L1310,540"/><path d="M455,565 L145,740 L90,748 M145,740 L910,600 L1300,495"/><path d="M1300,495 C1285,505 1290,520 1305,520 C1315,525 1312,538 1310,540"/><ellipse cx="452" cy="535" rx="36" ry="56" transform="rotate(-25 452 535)"/><ellipse cx="458" cy="540" rx="20" ry="34" transform="rotate(-25 458 540)"/><path d="M425,490 L720,318 C760,325 785,370 775,405 L490,582"/><path d="M765,332 L1110,122 C1170,95 1280,90 1340,160 L1640,600 M780,375 L1180,148 C1230,135 1280,150 1305,185 L1600,620"/><path d="M1600,620 C1590,635 1605,650 1620,640 C1625,625 1640,620 1640,600"/><path d="M1360,475 L1691,380 M1365,520 L1691,432 M1360,475 C1345,485 1348,500 1360,500 C1350,505 1352,520 1365,520"/></g>
<g transform="translate(1640.00,3580.00) scale(0.41396)"><path d="M460,410 L1190,210 C1260,190 1370,125 1400,80 M459,472 L1210,265 C1290,240 1400,180 1450,100"/></g>
<g transform="translate(2200.00,3520.00) scale(0.08279)"><path d="M340,760 L470,530 C520,490 560,475 650,470 C720,475 790,500 860,560 L930,650 L930,780 L880,850 L840,940 L760,1000"/><path d="M520,550 C600,540 700,570 800,640 C850,690 870,720 880,760 M470,640 C560,640 660,670 740,720 C800,780 830,820 840,850 M430,710 C520,715 620,750 700,800 C760,860 790,900 800,940"/><path d="M310,760 L190,930 L180,1140 L230,1150 M310,760 L530,790 L760,960 L750,1130 L630,1330 L500,1330"/><path d="M250,960 L400,965 M440,920 L520,820 M450,980 L610,1120 M660,1110 L720,1020 M580,760 L740,930 M620,1180 L620,1300"/><path d="M0,1390 C60,1370 120,1340 160,1280 L300,1040 C320,1025 360,1025 400,1040 C460,1080 510,1120 530,1160 C540,1200 530,1230 510,1250 L370,1449"/></g>
<path class="ln" d="M1433.6,3566.6 L1433.6,3684.0"/>
<g transform="translate(620.00,1500.00) scale(0.28386)"><path d="M210,115 L270,118 L390,185 C420,210 435,250 435,300 C430,360 400,420 330,480 C300,500 270,510 250,510 L200,495 L100,440 C70,410 55,370 55,310 C60,250 90,190 160,140 C180,125 195,118 210,115 Z"/><ellipse cx="318" cy="355" rx="112" ry="158" transform="rotate(18 318 355)"/><path d="M305,205 C360,190 400,230 410,280 C410,320 400,350 395,360 M285,480 C230,480 200,440 205,380 C210,320 240,270 280,245 M245,320 C230,340 220,360 220,370"/><path d="M185,395 C180,420 182,450 195,475"/><path d="M715,465 C720,440 700,410 650,405 C590,405 530,460 510,540 C500,610 520,665 570,675 C630,680 690,630 720,560 L725,505 L700,510"/><path d="M690,450 C690,430 660,425 640,425 C580,430 545,490 545,560 C545,620 570,650 610,648 C660,640 700,590 715,520"/><path d="M525,540 C520,600 530,650 570,665"/><path d="M690,450 C700,455 705,465 705,470 M690,520 C690,540 680,560 670,580"/></g>
<g transform="translate(800.00,1600.00) scale(0.47309)"><path d="M1100,745 L1305,862 L1145,830"/><path d="M1130,1490 L1268,1565"/></g>
<path class="ln" d="M680.2,1415.0 L680.2,1533.0"/>
<path class="ln" d="M805.9,1500.0 L805.9,1615.0"/>
<path class="ln" d="M577.1,1441.0 L482.5,1469.3 L619.7,1548.8"/>
<path class="ln" d="M615.0,1853.0 L524.0,1834.0 L615.0,1887.0"/>
<g transform="translate(400.00,2150.00) scale(0.26611)"><circle cx="1445" cy="233" r="160"/><path d="M1390,305 L1445,165 L1500,305 M1410,245 L1480,245"/><path d="M965,510 L1300,320"/><ellipse cx="797" cy="605" rx="112" ry="140" transform="rotate(-20 797 605)"/><path d="M750,480 C800,480 860,520 880,590 M880,650 C880,700 860,730 820,740"/><ellipse cx="785" cy="620" rx="38" ry="65" transform="rotate(-20 785 620)"/><path d="M730,565 C740,550 760,545 775,550 M760,650 C770,670 790,690 810,690"/><path d="M850,740 L850,1180"/><path d="M315,1020 L315,1467"/></g>
<g transform="translate(653.0,1909.7)"><ellipse cx="0.0" cy="0.0" rx="21" ry="31" transform="rotate(20 0.0 0.0)"/><ellipse cx="0.0" cy="0.0" rx="17" ry="27" transform="rotate(20 0.0 0.0)"/><ellipse cx="15.6" cy="7.6" rx="21" ry="31" transform="rotate(20 15.6 7.6)"/><ellipse cx="15.6" cy="7.6" rx="17" ry="27" transform="rotate(20 15.6 7.6)"/><path d="M7.6,25.6 L17.6,-12.4 M1.6,17.6 L10.6,-16.4"/><ellipse cx="31.2" cy="15.2" rx="21" ry="31" transform="rotate(20 31.2 15.2)"/><ellipse cx="31.2" cy="15.2" rx="17" ry="27" transform="rotate(20 31.2 15.2)"/><path d="M23.2,33.2 L33.2,-4.8 M17.2,25.2 L26.2,-8.8"/><ellipse cx="46.8" cy="22.8" rx="21" ry="31" transform="rotate(20 46.8 22.8)"/><ellipse cx="46.8" cy="22.8" rx="17" ry="27" transform="rotate(20 46.8 22.8)"/><path d="M38.8,40.8 L48.8,2.8 M32.8,32.8 L41.8,-1.2"/><ellipse cx="62.4" cy="30.4" rx="21" ry="31" transform="rotate(20 62.4 30.4)"/><ellipse cx="62.4" cy="30.4" rx="17" ry="27" transform="rotate(20 62.4 30.4)"/><path d="M54.4,48.4 L64.4,10.4 M48.4,40.4 L57.4,6.4"/></g>
<g transform="translate(1270.3,2265.8)"><ellipse cx="0.0" cy="0.0" rx="21" ry="31" transform="rotate(20 0.0 0.0)"/><ellipse cx="0.0" cy="0.0" rx="17" ry="27" transform="rotate(20 0.0 0.0)"/><ellipse cx="15.6" cy="7.6" rx="21" ry="31" transform="rotate(20 15.6 7.6)"/><ellipse cx="15.6" cy="7.6" rx="17" ry="27" transform="rotate(20 15.6 7.6)"/><path d="M7.6,25.6 L17.6,-12.4 M1.6,17.6 L10.6,-16.4"/><ellipse cx="31.2" cy="15.2" rx="21" ry="31" transform="rotate(20 31.2 15.2)"/><ellipse cx="31.2" cy="15.2" rx="17" ry="27" transform="rotate(20 31.2 15.2)"/><path d="M23.2,33.2 L33.2,-4.8 M17.2,25.2 L26.2,-8.8"/><ellipse cx="46.8" cy="22.8" rx="21" ry="31" transform="rotate(20 46.8 22.8)"/><ellipse cx="46.8" cy="22.8" rx="17" ry="27" transform="rotate(20 46.8 22.8)"/><path d="M38.8,40.8 L48.8,2.8 M32.8,32.8 L41.8,-1.2"/><ellipse cx="62.4" cy="30.4" rx="21" ry="31" transform="rotate(20 62.4 30.4)"/><ellipse cx="62.4" cy="30.4" rx="17" ry="27" transform="rotate(20 62.4 30.4)"/><path d="M54.4,48.4 L64.4,10.4 M48.4,40.4 L57.4,6.4"/></g>
<g transform="translate(1100.00,1800.02) scale(0.15376)"><path d="M100,420 C95,330 130,240 200,170 C260,115 330,95 390,100 C450,120 500,170 510,250 C515,330 490,400 440,460 C390,520 320,575 240,585 C170,580 120,520 100,420 Z"/><path d="M305,180 C340,150 390,135 430,140"/><path d="M160,430 C155,480 160,520 175,545"/><path d="M330,470 C270,475 235,430 245,350 C260,280 320,235 370,240 C410,245 430,290 425,360"/><path d="M265,435 C300,410 360,340 375,255"/></g>
<g transform="translate(1100.01,1799.95) scale(0.15376)"><path d="M615,700 C610,620 650,540 720,475 C750,450 780,435 800,430 L1000,440 C1040,470 1060,530 1055,600 C1050,680 1000,770 940,830 C890,880 840,900 790,900 C740,890 700,860 670,800 C640,760 620,730 615,700 Z"/><path d="M1000,630 C1010,560 980,510 930,505 C860,510 790,570 760,660 C740,740 760,820 820,835 C860,840 890,820 905,800"/><path d="M825,500 C850,480 880,465 900,460 M700,715 C695,760 700,810 710,840"/></g>
<g transform="translate(1099.99,1800.00) scale(0.15376)"><path d="M1265,770 L1300,730 L1420,700 L1450,705 L1580,790 C1605,850 1605,930 1590,1000 C1570,1070 1520,1130 1450,1180 C1410,1205 1370,1215 1340,1210 C1300,1200 1260,1180 1200,1130 C1160,1100 1145,1050 1145,1000 L1150,950 L1205,980 C1220,950 1240,910 1270,870 C1290,840 1310,815 1325,795 L1265,770 Z"/><path d="M1390,1120 C1350,1115 1330,1070 1330,1010 C1335,940 1380,880 1440,860 C1490,850 1530,890 1530,990"/><path d="M1330,1040 C1360,990 1390,930 1410,880"/><path d="M1390,820 C1420,800 1460,785 1500,775 M1255,1050 C1250,1100 1255,1150 1265,1180"/></g>
<g transform="translate(993.90,2080.92) scale(0.15376)"><path d="M100,420 C95,330 130,240 200,170 C260,115 330,95 390,100 C450,120 500,170 510,250 C515,330 490,400 440,460 C390,520 320,575 240,585 C170,580 120,520 100,420 Z"/><path d="M305,180 C340,150 390,135 430,140"/><path d="M160,430 C155,480 160,520 175,545"/><path d="M330,470 C270,475 235,430 245,350 C260,280 320,235 370,240 C410,245 430,290 425,360"/><path d="M265,435 C300,410 360,340 375,255"/></g>
<g transform="translate(990.51,2078.75) scale(0.15376)"><path d="M615,700 C610,620 650,540 720,475 C750,450 780,435 800,430 L1000,440 C1040,470 1060,530 1055,600 C1050,680 1000,770 940,830 C890,880 840,900 790,900 C740,890 700,860 670,800 C640,760 620,730 615,700 Z"/><path d="M1000,630 C1010,560 980,510 930,505 C860,510 790,570 760,660 C740,740 760,820 820,835 C860,840 890,820 905,800"/><path d="M825,500 C850,480 880,465 900,460 M700,715 C695,760 700,810 710,840"/></g>
<g transform="translate(983.19,2073.10) scale(0.15376)"><path d="M1265,770 L1300,730 L1420,700 L1450,705 L1580,790 C1605,850 1605,930 1590,1000 C1570,1070 1520,1130 1450,1180 C1410,1205 1370,1215 1340,1210 C1300,1200 1260,1180 1200,1130 C1160,1100 1145,1050 1145,1000 L1150,950 L1205,980 C1220,950 1240,910 1270,870 C1290,840 1310,815 1325,795 L1265,770 Z"/><path d="M1390,1120 C1350,1115 1330,1070 1330,1010 C1335,940 1380,880 1440,860 C1490,850 1530,890 1530,990"/><path d="M1330,1040 C1360,990 1390,930 1410,880"/><path d="M1390,820 C1420,800 1460,785 1500,775 M1255,1050 C1250,1100 1255,1150 1265,1180"/></g>
<g transform="translate(747.11,1596.45) scale(0.15376)"><path d="M615,700 C610,620 650,540 720,475 C750,450 780,435 800,430 L1000,440 C1040,470 1060,530 1055,600 C1050,680 1000,770 940,830 C890,880 840,900 790,900 C740,890 700,860 670,800 C640,760 620,730 615,700 Z"/><path d="M1000,630 C1010,560 980,510 930,505 C860,510 790,570 760,660 C740,740 760,820 820,835 C860,840 890,820 905,800"/><path d="M825,500 C850,480 880,465 900,460 M700,715 C695,760 700,810 710,840"/></g>
<g transform="translate(664.31,1885.45) scale(0.15376)"><path d="M615,700 C610,620 650,540 720,475 C750,450 780,435 800,430 L1000,440 C1040,470 1060,530 1055,600 C1050,680 1000,770 940,830 C890,880 840,900 790,900 C740,890 700,860 670,800 C640,760 620,730 615,700 Z"/><path d="M1000,630 C1010,560 980,510 930,505 C860,510 790,570 760,660 C740,740 760,820 820,835 C860,840 890,820 905,800"/><path d="M825,500 C850,480 880,465 900,460 M700,715 C695,760 700,810 710,840"/></g>
<g transform="translate(910.00,1700.00) scale(0.11236)"><path d="M330,500 C300,520 260,525 220,520 C170,510 110,470 90,400 C80,330 110,240 150,180 C200,120 250,80 300,75 L360,75 L450,130 C465,170 468,220 465,270"/><path d="M440,250 L350,205 C300,210 250,250 225,300 C210,350 215,400 250,430 L330,470"/><path d="M265,155 L330,110 M155,330 C150,380 148,420 150,460"/><path d="M600,630 C560,665 520,680 480,675 C420,660 370,620 355,560 C345,480 370,400 420,330 C470,270 540,235 620,230 L700,280 C720,320 730,370 730,420"/><path d="M730,430 L610,360 C560,370 510,410 490,460 C470,510 480,560 520,590 L600,630"/><path d="M535,305 L610,265 M410,520 C405,570 405,600 410,630"/><path d="M730,430 L1250,730 M600,620 L1140,930"/><path d="M1145,990 C1140,900 1180,810 1250,740 C1300,700 1340,690 1380,690 L1500,730 C1520,770 1528,820 1525,880"/><path d="M1520,880 L1410,820 C1350,830 1300,880 1290,950 C1285,1000 1300,1030 1360,1080 L1410,1100"/><path d="M1145,990 C1150,1060 1200,1110 1260,1135 C1310,1145 1370,1135 1410,1110"/><path d="M1420,1060 L1420,960 L1520,890 L1580,900 L1630,960 L1630,1020 L1600,1080 L1550,1110 L1500,1100 L1410,1100"/><path d="M1540,975 L1580,960 M1500,1050 L1500,1100 M1310,770 L1380,730 M1215,940 C1205,1000 1205,1050 1210,1100"/></g>
<g transform="translate(830.00,2000.00) scale(0.10053)"><path d="M220,390 L110,340 L65,290 L70,200 L90,150 L150,90 L200,75 L230,100 L350,170"/><path d="M400,570 C350,575 300,560 260,520 C235,480 228,420 232,350 C245,290 280,220 330,180 C360,150 400,135 480,130 L580,190 C595,210 600,230 600,250"/><path d="M560,290 L520,260 C470,250 420,270 385,310 C355,350 345,400 350,450 C360,490 380,510 420,530"/><path d="M700,680 C670,710 620,725 560,722 C500,715 450,670 430,620 C420,560 425,480 470,400 C510,330 560,290 620,250 C660,235 700,230 720,230 L830,300 C842,340 846,380 845,420"/><path d="M830,460 L740,385 C680,380 620,420 590,480 C570,530 575,580 610,620 L700,680"/><path d="M990,860 C950,890 900,895 840,895 C780,880 740,830 730,760 C725,690 745,610 790,540 C840,480 900,430 980,400 L1030,400 L1135,490 C1145,530 1148,580 1145,620"/><path d="M1140,620 L1030,555 C970,560 910,610 880,680 C865,730 875,780 920,800 L990,860"/><path d="M1140,620 L1250,680 L1320,750 L1550,880 L1560,950 L1540,1000 L1480,1060 L1420,1060 L1190,930 L1100,910 L990,860"/><path d="M1100,910 L1100,780 L1170,690 L1260,680 M1190,930 L1190,800 L1270,740"/><path d="M1470,890 L1490,880 M1410,1050 L1410,980 M420,210 L490,165 M290,410 L290,490 M620,320 L700,270 M490,520 L490,640 M920,490 L1000,440 M790,690 L790,820"/></g>
<g transform="translate(380.00,2150.00) scale(0.29568)"><path d="M200,760 C230,740 270,715 300,713 C330,715 360,740 380,775 C398,810 405,850 398,880 C385,910 350,935 305,940 C270,935 235,905 212,870 C195,840 188,800 200,760 Z"/><path d="M345,738 C375,770 395,820 395,860"/><path d="M230,760 L275,768 M298,782 L330,845 M345,852 L398,832 M335,870 L328,925"/><path d="M345,735 L440,668 L470,668 L490,688 M398,830 L515,770 L515,740"/><path d="M375,715 C400,740 415,790 415,830 M410,695 C435,720 450,770 450,815 M445,678 C470,705 485,750 485,800"/><path d="M490,688 L545,640 L570,635 L595,660 L598,690 L580,710 L515,742"/></g>
<g transform="translate(2640.00,1620.00) scale(0.33116)"><path d="M1250,540 C1255,520 1270,508 1290,505 C1310,508 1322,530 1322,560 C1320,595 1305,615 1285,615 C1262,612 1250,590 1250,560 Z"/><ellipse cx="1285" cy="563" rx="9" ry="12"/><path d="M1280,507 L1410,450 M1295,615 L1430,553"/><path d="M1318,500 C1345,520 1352,575 1335,608 M1343,489 C1370,509 1377,564 1360,597 M1368,478 C1395,498 1402,553 1385,586 M1393,467 C1420,487 1427,542 1410,575"/><path d="M1410,450 L1460,425 M1430,553 L1470,520"/><ellipse cx="1470" cy="450" rx="52" ry="92" transform="rotate(-12 1470 450)"/><path d="M1440,425 C1460,410 1480,415 1490,440"/><path d="M1470,360 C1490,350 1510,352 1540,362 L1575,410 L1590,460 L1575,515 L1545,540 L1510,545"/><path d="M1500,358 C1530,380 1545,430 1545,480 C1545,510 1535,530 1520,542"/></g></svg>
</body></html>
